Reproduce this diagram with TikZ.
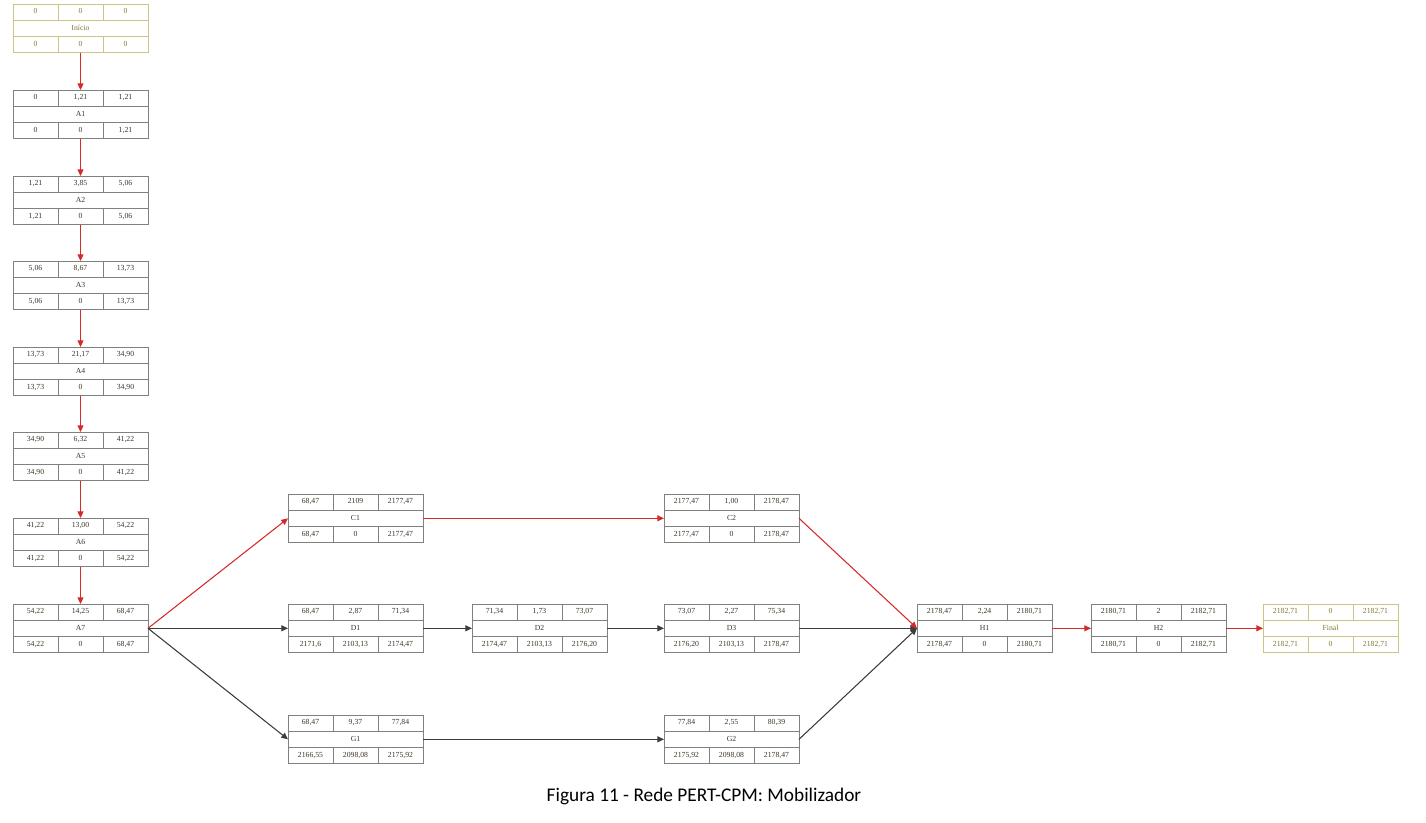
\documentclass[tikz,border=0pt]{standalone}
\usepackage{fontspec}
\setmainfont{Liberation Serif}
\newfontfamily\capfont{Carlito}
\usetikzlibrary{arrows.meta}
\definecolor{redline}{HTML}{D62A2A}
\definecolor{darkline}{HTML}{3C3C3C}
\definecolor{boxline}{HTML}{808080}
\definecolor{termline}{HTML}{CBC483}
\definecolor{valtext}{HTML}{3D3426}
\definecolor{termtext}{HTML}{857535}
\tikzset{
  pbox/.style={draw=boxline, line width=0.6pt, minimum width=101.25pt, minimum height=36.45pt, inner sep=0pt, outer sep=0pt},
  gridl/.style={draw=boxline, line width=0.6pt},
  val/.style={font=\fontsize{5.8}{6}\selectfont, text=valtext, inner sep=0pt, text height=4pt, text depth=1.2pt},
  pboxcol/.style={},
  pvalcol/.style={},
  plain/.style={},
  term/.style={pboxcol/.style={draw=termline}, pvalcol/.style={text=termtext}},
  crit/.style={draw=redline, line width=0.8pt, -{Triangle[length=5pt,width=4.5pt]}},
  flow/.style={draw=darkline, line width=0.8pt, -{Triangle[length=5pt,width=4.5pt]}},
}
\def\toprow#1/#2/#3\relax{%
  \node[val,pvalcol] (\pname-t1) at (22.5,8.1) {#1};
  \node[val,pvalcol] (\pname-t2) at (67.5,8.1) {#2};
  \node[val,pvalcol] (\pname-t3) at (112.5,8.1) {#3};}
\def\botrow#1/#2/#3\relax{%
  \node[val,pvalcol] (\pname-b1) at (22.5,40.5) {#1};
  \node[val,pvalcol] (\pname-b2) at (67.5,40.5) {#2};
  \node[val,pvalcol] (\pname-b3) at (112.5,40.5) {#3};}
% name, left, top, kind, label, top values, bottom values
\newcommand\pbox[7]{%
  \def\pname{#1}%
  \begin{scope}[shift={(#2,#3)},#4]
    \node[pbox,pboxcol] (#1) at (67.5,24.3) {};
    \draw[gridl,pboxcol] (0,16.2) -- (135,16.2) (0,32.4) -- (135,32.4)
      (45,0) -- (45,16.2) (90,0) -- (90,16.2)
      (45,32.4) -- (45,48.6) (90,32.4) -- (90,48.6);
    \toprow#6\relax
    \node[val,pvalcol] (#1-l) at (67.5,24.3) {#5};
    \botrow#7\relax
  \end{scope}}
\begin{document}
\begin{tikzpicture}[x=0.75pt,y=-0.75pt]
\useasboundingbox (0,0) rectangle (1426,822);
\pbox{Ini}{13}{4}{term}{Início}{0/0/0}{0/0/0}
\pbox{A1}{13}{90}{plain}{A1}{0/1,21/1,21}{0/0/1,21}
\pbox{A2}{13}{176}{plain}{A2}{1,21/3,85/5,06}{1,21/0/5,06}
\pbox{A3}{13}{261}{plain}{A3}{5,06/8,67/13,73}{5,06/0/13,73}
\pbox{A4}{13}{347}{plain}{A4}{13,73/21,17/34,90}{13,73/0/34,90}
\pbox{A5}{13}{432}{plain}{A5}{34,90/6,32/41,22}{34,90/0/41,22}
\pbox{A6}{13}{518}{plain}{A6}{41,22/13,00/54,22}{41,22/0/54,22}
\pbox{A7}{13}{604}{plain}{A7}{54,22/14,25/68,47}{54,22/0/68,47}
\pbox{C1}{288}{494}{plain}{C1}{68,47/2109/2177,47}{68,47/0/2177,47}
\pbox{C2}{664}{494}{plain}{C2}{2177,47/1,00/2178,47}{2177,47/0/2178,47}
\pbox{D1}{288}{604}{plain}{D1}{68,47/2,87/71,34}{2171,6/2103,13/2174,47}
\pbox{D2}{472}{604}{plain}{D2}{71,34/1,73/73,07}{2174,47/2103,13/2176,20}
\pbox{D3}{664}{604}{plain}{D3}{73,07/2,27/75,34}{2176,20/2103,13/2178,47}
\pbox{G1}{288}{715}{plain}{G1}{68,47/9,37/77,84}{2166,55/2098,08/2175,92}
\pbox{G2}{664}{715}{plain}{G2}{77,84/2,55/80,39}{2175,92/2098,08/2178,47}
\pbox{H1}{917}{604}{plain}{H1}{2178,47/2,24/2180,71}{2178,47/0/2180,71}
\pbox{H2}{1091}{604}{plain}{H2}{2180,71/2/2182,71}{2180,71/0/2182,71}
\pbox{Fin}{1263}{604}{term}{Final}{2182,71/0/2182,71}{2182,71/0/2182,71}
\draw[crit] (Ini.south) -- (A1.north);
\draw[crit] (A1.south) -- (A2.north);
\draw[crit] (A2.south) -- (A3.north);
\draw[crit] (A3.south) -- (A4.north);
\draw[crit] (A4.south) -- (A5.north);
\draw[crit] (A5.south) -- (A6.north);
\draw[crit] (A6.south) -- (A7.north);
\draw[crit] (A7.east) -- (C1.west);
\draw[flow] (A7.east) -- (D1.west);
\draw[flow] (A7.east) -- (G1.west);
\draw[crit] (C1.east) -- (C2.west);
\draw[flow] (D1.east) -- (D2.west);
\draw[flow] (D2.east) -- (D3.west);
\draw[flow] (G1.east) -- (G2.west);
\draw[flow] (D3.east) -- (H1.west);
\draw[flow] (G2.east) -- (H1.west);
\draw[crit] (C2.east) -- (H1.west);
\draw[crit] (H1.east) -- (H2.west);
\draw[crit] (H2.east) -- (Fin.west);
\node[font=\capfont\fontsize{14.5}{17}\selectfont, inner sep=0pt] (cap) at (704,796) {Figura 11 - Rede PERT-CPM: Mobilizador};
\end{tikzpicture}
\end{document}
